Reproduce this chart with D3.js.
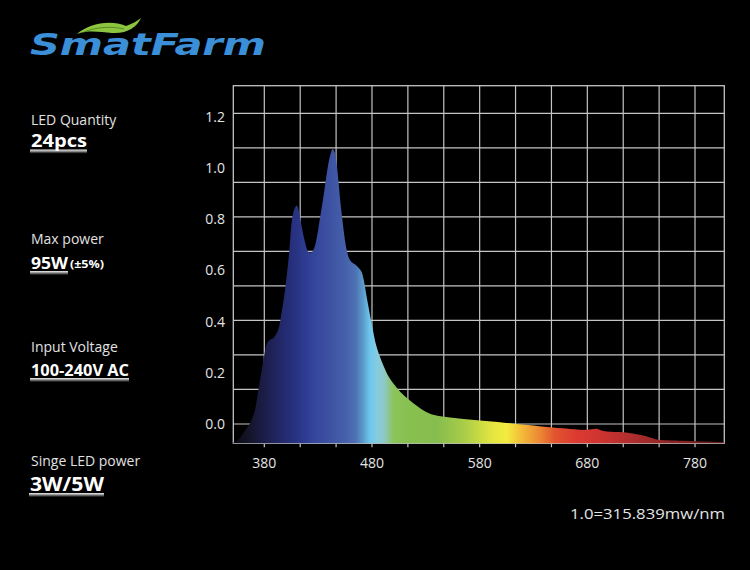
<!DOCTYPE html>
<html>
<head>
<meta charset="utf-8">
<script src="https://cdn.jsdelivr.net/npm/d3@7/dist/d3.min.js"></script>
<style>
  html, body { margin: 0; padding: 0; background: #000; }
  svg { display: block; }
</style>
</head>
<body>
<svg id="chart" width="750" height="570"></svg>
<script>
// ---------- data ----------
const wavelengths = [351.2, 356, 362, 366.7, 371.3, 374.4, 377.6, 380, 382.2, 385, 388.4, 393, 396, 399.2, 403.2, 405.4, 407.5, 410.1, 412.5, 414.7, 418, 420.9, 424, 426.5, 428.7, 431.5, 434.8, 439.4, 441.5, 443.5, 445.5, 447.2, 451.9, 456.5, 459, 461.2, 464.5, 467.3, 470, 471.9, 475.1, 479.7, 484.4, 490.5, 496, 503, 510, 518.4, 526, 533.9, 542, 552.5, 565, 580.3, 597, 614.4, 630, 645.3, 660, 676.3, 684, 688.7, 693, 698, 705, 713.4, 722, 732, 740, 744.4, 755, 769.1, 785, 800.1, 807.2];
const intensity   = [-0.073, -0.06, -0.025, 0.003, 0.055, 0.132, 0.21, 0.27, 0.312, 0.328, 0.336, 0.37, 0.435, 0.522, 0.675, 0.79, 0.835, 0.854, 0.825, 0.772, 0.708, 0.673, 0.672, 0.69, 0.728, 0.80, 0.886, 1.016, 1.055, 1.075, 1.06, 1.016, 0.82, 0.68, 0.645, 0.633, 0.624, 0.612, 0.597, 0.572, 0.496, 0.393, 0.30, 0.23, 0.182, 0.142, 0.11, 0.081, 0.058, 0.040, 0.031, 0.025, 0.02, 0.014, 0.008, 0.0, -0.006, -0.013, -0.018, -0.023, -0.021, -0.019, -0.025, -0.029, -0.031, -0.032, -0.037, -0.045, -0.055, -0.061, -0.064, -0.066, -0.068, -0.069, -0.071];

const xTickLabels = [380, 480, 580, 680, 780];
const yTickLabels = [0.0, 0.2, 0.4, 0.6, 0.8, 1.0, 1.2];

const gradNm     = [351, 365, 380, 395, 410, 425, 440, 455, 465, 472, 478, 485, 492, 500, 515, 540, 565, 590, 605, 620, 635, 650, 670, 690, 720, 760, 807];
const gradColors = ["#0a0a12", "#141428", "#1c1d48", "#222868", "#283384", "#33449a", "#3d52a2", "#4560aa", "#4d72b4", "#5c9ccc", "#6ec6ee", "#86cce0", "#8ec8c0", "#8cc45a", "#88c050", "#86bd4f", "#a8cc48", "#e0e440", "#f4ec3e", "#f2b838", "#ec8a34", "#e2542f", "#db3a30", "#d03430", "#b02e2e", "#8a2424", "#5a1a1a"];

const specLabels = ["LED Quantity", "Max power", "Input Voltage", "Singe LED power"];
const specValues = ["24pcs", "95W", "100-240V AC", "3W/5W"];
const specNote   = ["", "(±5%)", "", ""];
const unitNote   = "1.0=315.839mw/nm";
const brand      = "SmatFarm";

// ---------- layout ----------
const svg = d3.select("#chart");
const pL = 233.3, pR = 724.3, pT = 85.7, pB = 443.3;
const x = d3.scaleLinear().domain([351.2, 807.2]).range([pL, pR]);
const y = d3.scaleLinear().domain([-0.0755, 1.323]).range([pB, pT]);

const gridX = d3.range(380, 790, 100 / 3);
const gridY = d3.range(0, 1.25, 0.135);
const gridColor = "#c4c4c4";

// defs
const defs = svg.append("defs");
const grad = defs.append("linearGradient")
  .attr("id", "spec").attr("gradientUnits", "userSpaceOnUse")
  .attr("x1", x(351.2)).attr("x2", x(807.2)).attr("y1", 0).attr("y2", 0);
gradNm.forEach((nm, i) => {
  grad.append("stop")
    .attr("offset", (x(nm) - x(351.2)) / (x(807.2) - x(351.2)))
    .attr("stop-color", gradColors[i]);
});
const ul = defs.append("linearGradient").attr("id", "ul")
  .attr("x1", 0).attr("x2", 0).attr("y1", 0).attr("y2", 1);
ul.append("stop").attr("offset", 0).attr("stop-color", "#ffffff").attr("stop-opacity", 0.95);
ul.append("stop").attr("offset", 0.5).attr("stop-color", "#aaaaaa").attr("stop-opacity", 0.8);
ul.append("stop").attr("offset", 1).attr("stop-color", "#555555").attr("stop-opacity", 0.2);

// gridlines
const g = svg.append("g");
g.selectAll(".gx").data(gridX).join("line")
  .attr("x1", d => x(d)).attr("x2", d => x(d))
  .attr("y1", pT).attr("y2", pB + 4)
  .attr("stroke", gridColor).attr("stroke-width", 1.2);
g.selectAll(".gy").data(gridY).join("line")
  .attr("x1", pL).attr("x2", pR)
  .attr("y1", d => y(d)).attr("y2", d => y(d))
  .attr("stroke", gridColor).attr("stroke-width", 1.2);
g.append("rect")
  .attr("x", pL).attr("y", pT).attr("width", pR - pL).attr("height", pB - pT)
  .attr("fill", "none").attr("stroke", gridColor).attr("stroke-width", 1.3);

// spectrum area
const pts = wavelengths.map((w, i) => [w, intensity[i]]);
const area = d3.area()
  .x(d => x(d[0]))
  .y0(y(-0.0755))
  .y1(d => Math.min(y(d[1]), pB))
  .curve(d3.curveCatmullRom.alpha(0.5));
svg.append("path").datum(pts).attr("d", area).attr("fill", "url(#spec)");

// axis labels
svg.selectAll(".yl").data(yTickLabels).join("text")
  .attr("x", 225).attr("y", d => y(d)).attr("dy", "0.35em")
  .attr("text-anchor", "end")
  .attr("font-family", "'Open Sans', sans-serif").attr("font-size", 14)
  .attr("fill", "#e4e4e4")
  .text(d => d3.format(".1f")(d));
svg.selectAll(".xl").data(xTickLabels).join("text")
  .attr("x", d => x(d)).attr("y", 468)
  .attr("text-anchor", "middle")
  .attr("font-family", "'Open Sans', sans-serif").attr("font-size", 14)
  .attr("fill", "#e4e4e4")
  .text(d => d);

// unit note
svg.append("text").attr("x", 570).attr("y", 519)
  .attr("font-family", "'Open Sans', sans-serif").attr("font-size", 15)
  .attr("fill", "#e4e4e4").attr("textLength", 155).attr("lengthAdjust", "spacingAndGlyphs")
  .text(unitNote);

// spec block
const labelY = [125, 243.5, 352, 465.5];
const valueY = [147, 268.5, 375.5, 490.5];
const valueW = [56, 37, 98, 74];
const valueSize = [17, 16, 16, 19];
specLabels.forEach((lab, i) => {
  svg.append("text").attr("x", 31).attr("y", labelY[i])
    .attr("font-family", "'Open Sans', sans-serif").attr("font-size", 14)
    .attr("fill", "#e2e2e2").text(lab);
  const ux = i === 3 ? 29 : 30;
  svg.append("rect").attr("x", ux).attr("y", valueY[i] + 2.5)
    .attr("width", (i === 1 ? 38 : valueW[i] + 1)).attr("height", 4)
    .attr("fill", "url(#ul)");
  svg.append("text").attr("x", ux + 1).attr("y", valueY[i])
    .attr("font-family", "'Open Sans', sans-serif").attr("font-weight", 700)
    .attr("font-size", valueSize[i]).attr("fill", "#ffffff")
    .attr("textLength", valueW[i]).attr("lengthAdjust", "spacingAndGlyphs")
    .text(specValues[i]);
  if (specNote[i]) {
    svg.append("text").attr("x", 70).attr("y", valueY[i] - 1)
      .attr("font-family", "'Open Sans', sans-serif").attr("font-weight", 700)
      .attr("font-size", 10).attr("fill", "#ffffff")
      .attr("textLength", 34).attr("lengthAdjust", "spacingAndGlyphs")
      .text(specNote[i]);
  }
});

// logo
svg.append("path")
  .attr("d", "M77,34 C88,24 110,19 126,26 C132,24 137,21 141,18 C137,27 127,34 112,33 C100,32 88,30 77,34 Z")
  .attr("fill", "#8cc63f");
svg.append("path")
  .attr("d", "M84,32 C96,27 112,26 124,29")
  .attr("fill", "none").attr("stroke", "#4a7a20").attr("stroke-width", 0.8);
svg.append("text").attr("x", 30).attr("y", 55)
  .attr("font-family", "'DejaVu Sans', sans-serif").attr("font-weight", 700)
  .attr("font-style", "italic").attr("font-size", 30)
  .attr("fill", "#3b8fd8")
  .attr("textLength", 236).attr("lengthAdjust", "spacingAndGlyphs")
  .text(brand);
</script>
</body>
</html>
